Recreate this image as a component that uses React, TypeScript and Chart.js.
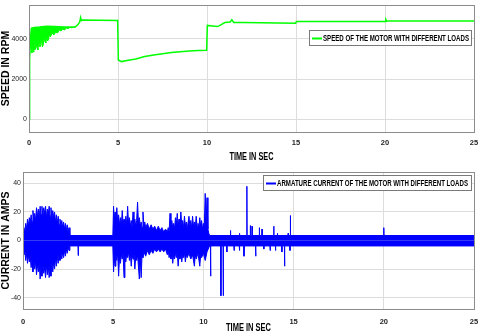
import React, { useEffect, useRef } from 'react';
import { Chart, registerables } from 'chart.js';

Chart.register(...registerables);

// ---------- DATA ----------
const timeTicks = [0, 5, 10, 15, 20, 25];
const speedTicks = [0, 2000, 4000];
const currentTicks = [-40, -20, 0, 20, 40];

const timeTitle = 'TIME IN SEC';
const speedTitle = 'SPEED IN RPM';
const currentTitle = 'CURRENT IN AMPS';
const speedLabel = 'SPEED OF THE MOTOR WITH DIFFERENT LOADS';
const currentLabel = 'ARMATURE CURRENT OF THE MOTOR WITH DIFFERENT LOADS';

// speed of the motor (upper trace), seconds / rpm
const speedTime = [0, 0.02, 0.05, 0.1, 0.15, 0.3, 0.6, 1.0, 1.4, 2.0, 2.6, 2.75, 2.85, 2.9, 2.95, 3.0, 4.98,
  5.02, 5.2, 5.5, 6.0, 6.5, 7.0, 7.5, 8.0, 8.5, 9.0, 9.5, 9.98, 10.02, 10.3, 10.6, 10.8, 11.0, 11.3, 11.4,
  11.5, 12.0, 13.0, 14.0, 14.98, 15.02, 20.0, 20.05, 20.1, 25];
const speedRpm = [0, 1500, 3000, 4200, 4550, 4580, 4600, 4640, 4620, 4600, 4600, 4720, 4850, 5080, 4920, 4950, 4930,
  2950, 2870, 2920, 3000, 3120, 3200, 3260, 3320, 3360, 3400, 3430, 3440, 4680, 4650, 4620, 4720, 4820, 4850, 4960,
  4830, 4820, 4810, 4800, 4790, 4870, 4880, 4980, 4900, 4900];

// lower edge of the speed ripple during start-up
const rippleTime = [0.12, 0.16, 0.2, 0.24, 0.28, 0.32, 0.36, 0.4, 0.45, 0.5, 0.55, 0.6, 0.65, 0.7, 0.75, 0.8, 0.85,
  0.9, 0.95, 1.0, 1.05, 1.1, 1.15, 1.2, 1.3, 1.4, 1.5, 1.6, 1.7, 1.8, 1.9, 2.0, 2.1, 2.2, 2.3, 2.4, 2.5, 2.6];
const rippleRpm = [4550, 3300, 3700, 3350, 3900, 3450, 3500, 3800, 3550, 3450, 3900, 3600, 3650, 4000, 3600, 3700, 4100,
  3850, 3800, 4150, 3900, 4000, 4250, 4100, 4300, 4200, 4350, 4300, 4450, 4400, 4500, 4450, 4550, 4520, 4580, 4560, 4590, 4600];

// armature current: steady ripple band
const bandHigh = 3.5;
const bandLow = -3.8;

// armature current: upper envelope of the bursts (A)
const upperTime = [0, 0.05, 0.1, 0.15, 0.2, 0.25, 0.3, 0.35, 0.4, 0.45, 0.5, 0.55, 0.6, 0.65, 0.7, 0.75, 0.8, 0.85, 0.9, 0.95,
  1.0, 1.05, 1.1, 1.15, 1.2, 1.25, 1.3, 1.35, 1.4, 1.45, 1.5, 1.55, 1.6, 1.65, 1.7, 1.75, 1.8, 1.85, 1.9, 1.95,
  2.0, 2.05, 2.1, 2.15, 2.2, 2.25, 2.3, 2.35, 2.4, 2.45, 2.5, 2.55, 2.6, 4.98,
  5.02, 5.06, 5.1, 5.15, 5.2, 5.25, 5.3, 5.35, 5.4, 5.45, 5.5, 5.55, 5.6, 5.65, 5.7, 5.75, 5.8, 5.85, 5.9, 5.95,
  6.0, 6.05, 6.1, 6.15, 6.2, 6.25, 6.3, 6.35, 6.4, 6.45, 6.5, 6.55, 6.6, 6.65, 6.7, 6.75, 6.8, 6.9, 7.0, 7.1, 7.2,
  7.3, 7.4, 7.5, 7.6, 7.7, 7.8, 7.9, 8.0, 8.05, 8.1, 8.15, 8.2, 8.25, 8.3, 8.35, 8.4, 8.45, 8.5, 8.55, 8.6, 8.65,
  8.7, 8.75, 8.8, 8.85, 8.9, 8.95, 9.0, 9.05, 9.1, 9.2, 9.25, 9.3, 9.35, 9.4, 9.45, 9.5, 9.55, 9.6, 9.65, 9.7,
  9.75, 9.8, 9.85, 9.9, 9.95, 10.0, 10.05, 10.1, 10.15, 10.2, 10.25, 10.3, 10.35, 25];
const upperAmps = [6, 9, 5, 12, 8, 15, 10, 16, 12, 18, 13, 21, 15, 19, 14, 23, 17, 22, 16, 24,
  18, 24, 17, 23, 19, 24, 16, 22, 18, 24, 17, 23, 15, 21, 16, 20, 13, 18, 12, 17,
  11, 15, 10, 14, 9, 13, 8, 12, 7, 11, 6, 9, 3.5, 3.5,
  24, 14, 20, 12, 23, 13, 18, 11, 16, 10, 21, 12, 15, 10, 17, 11, 24, 12, 16, 10,
  14, 9, 20, 11, 15, 10, 14, 27, 12, 16, 10, 13, 9, 20, 11, 13, 9, 12, 8, 11, 8,
  10, 7, 10, 7, 9, 6, 8, 6, 9, 6, 19, 10, 14, 9, 12, 8, 16, 11, 19, 10, 15,
  9, 20, 11, 14, 9, 17, 10, 13, 8, 17, 10, 14, 9, 17, 10, 13, 9, 17, 10, 12,
  9, 16, 10, 14, 8, 12, 10, 33, 12, 30, 8, 5, 3.5, 3.5];

// armature current: lower envelope of the bursts (A)
const lowerTime = [0, 0.05, 0.1, 0.15, 0.2, 0.25, 0.3, 0.35, 0.4, 0.45, 0.5, 0.55, 0.6, 0.65, 0.7, 0.75, 0.8, 0.85, 0.9, 0.95,
  1.0, 1.05, 1.1, 1.15, 1.2, 1.25, 1.3, 1.35, 1.4, 1.45, 1.5, 1.55, 1.6, 1.65, 1.7, 1.75, 1.8, 1.85, 1.9, 1.95,
  2.0, 2.05, 2.1, 2.15, 2.2, 2.25, 2.3, 2.35, 2.4, 2.45, 2.5, 2.55, 2.6, 4.98,
  5.02, 5.06, 5.1, 5.15, 5.2, 5.25, 5.3, 5.35, 5.4, 5.45, 5.5, 5.55, 5.6, 5.65, 5.7, 5.75, 5.8, 5.85, 5.9, 5.95,
  6.0, 6.05, 6.1, 6.15, 6.2, 6.25, 6.3, 6.35, 6.45, 6.5, 6.55, 6.6, 6.65, 6.7, 6.8, 6.9, 7.0, 7.1, 7.2, 7.3,
  7.4, 7.5, 7.6, 7.7, 7.8, 7.9, 8.0, 8.05, 8.1, 8.15, 8.2, 8.25, 8.3, 8.35, 8.4, 8.45, 8.5, 8.55, 8.6, 8.65,
  8.7, 8.75, 8.8, 8.85, 8.9, 8.95, 9.0, 9.05, 9.1, 9.2, 9.3, 9.4, 9.5, 9.55, 9.6, 9.7, 9.8, 9.85, 9.9, 10.0,
  10.1, 10.2, 10.3, 10.35, 25];
const lowerAmps = [-6, -10, -6, -14, -9, -16, -10, -15, -11, -19, -13, -22, -14, -20, -15, -24, -17, -22, -16, -27,
  -18, -25, -17, -23, -19, -26, -17, -24, -18, -26, -19, -25, -16, -22, -15, -20, -13, -18, -11, -16,
  -10, -14, -9, -13, -8, -12, -7, -11, -6, -9, -5, -7, -3.8, -3.8,
  -22, -12, -18, -10, -14, -9, -25, -12, -16, -10, -13, -9, -26, -11, -15, -9, -12, -8, -14, -9,
  -18, -10, -13, -9, -20, -11, -14, -10, -27, -12, -26, -10, -12, -8, -11, -7, -10, -7, -9, -6,
  -8, -6, -8, -6, -8, -6, -10, -7, -12, -8, -13, -9, -16, -10, -13, -9, -12, -8, -18, -10,
  -13, -9, -15, -10, -12, -9, -15, -10, -12, -9, -13, -10, -18, -10, -13, -9, -18, -10, -12, -9,
  -14, -8, -5, -3.8, -3.8];

// isolated current spikes outside the bursts
const spikeUpTime = [11.5, 12.0, 12.41, 12.6, 12.7, 13.1, 13.25, 13.9, 14.1, 14.7, 14.82, 20.0];
const spikeUpAmps = [7, 5, 38, 10.5, 10, 9, 8, 10, 5, 5, 17.5, 9];
const spikeDownTime = [3.06, 10.4, 10.97, 11.1, 11.3, 11.7, 12.0, 12.25, 12.9, 13.35, 13.7, 14.0, 14.35, 14.5, 14.8];
const spikeDownAmps = [-10.5, -25, -38.7, -38.7, -8, -7, -7, -11, -11, -6, -7, -7, -8, -18, -7];

// ---------- HELPERS ----------
type Pt = { x: number; y: number };
const zip = (xs: number[], ys: number[]): Pt[] => xs.map((x, i) => ({ x, y: ys[i] }));

function withSpikes(base: Pt[], ts: number[], vs: number[], level: number): Pt[] {
  const pts = base.slice();
  ts.forEach((t, i) => {
    pts.push({ x: t - 0.012, y: level }, { x: t, y: vs[i] }, { x: t + 0.012, y: level });
  });
  return pts.sort((a, b) => a.x - b.x);
}

const FONT = "'Liberation Sans', Arial, sans-serif";

// draws text condensed horizontally so that it spans `width` pixels (narrow bold look)
function drawNarrow(ctx: CanvasRenderingContext2D, text: string, x: number, y: number, size: number, width: number, align: 'left' | 'center') {
  ctx.save();
  ctx.font = `bold ${size}px ${FONT}`;
  ctx.textBaseline = 'middle';
  ctx.textAlign = 'left';
  const w = ctx.measureText(text).width;
  const sx = width / w;
  const startX = align === 'center' ? x - width / 2 : x;
  ctx.translate(startX, y);
  ctx.scale(sx, 1);
  ctx.fillStyle = '#000000';
  ctx.fillText(text, 0, 0);
  ctx.restore();
}

const framePlugin = {
  id: 'frame',
  afterDatasetsDraw(chart: any) {
    const { ctx, chartArea: a } = chart;
    ctx.save();
    ctx.strokeStyle = '#8c8c8c';
    ctx.lineWidth = 1;
    ctx.strokeRect(Math.round(a.left) + 0.5, Math.round(a.top) + 0.5, Math.round(a.right - a.left), Math.round(a.bottom - a.top));
    ctx.restore();
  },
};

const narrowTextPlugin = {
  id: 'narrowText',
  afterDraw(chart: any, _args: any, opts: any) {
    if (!opts || !opts.legendText) return;
    const { ctx, chartArea: a, height } = chart;
    // x-axis title
    drawNarrow(ctx, opts.xTitle, (a.left + a.right) / 2, height - opts.xTitleFromBottom, opts.xTitleSize, opts.xTitleWidth, 'center');
    // boxed legend inside the axes
    const right = a.right - opts.marginRight;
    const left = right - opts.width;
    const top = a.top + opts.marginTop;
    const h = opts.height;
    ctx.save();
    ctx.fillStyle = '#ffffff';
    ctx.fillRect(left, top, opts.width, h);
    ctx.strokeStyle = '#7a7a7a';
    ctx.lineWidth = 1;
    ctx.strokeRect(Math.round(left) + 0.5, Math.round(top) + 0.5, Math.round(opts.width), Math.round(h));
    ctx.strokeStyle = opts.color;
    ctx.lineWidth = 2;
    ctx.beginPath();
    ctx.moveTo(left + 3, Math.round(top + h / 2) + 0.5);
    ctx.lineTo(left + 13, Math.round(top + h / 2) + 0.5);
    ctx.stroke();
    ctx.restore();
    drawNarrow(ctx, opts.legendText, left + opts.textOffset, top + h / 2 + 1, 9, opts.textWidth, 'left');
  },
};

function makeXScale(height: number, pad: number) {
  return {
    type: 'linear',
    min: 0,
    max: 25,
    afterBuildTicks: (s: any) => { s.ticks = timeTicks.map((v) => ({ value: v })); },
    afterFit: (s: any) => { s.height = height; s.paddingLeft = 0; s.paddingRight = 0; },
    grid: { color: '#dcdcdc', drawTicks: false, lineWidth: 1 },
    border: { display: false },
    ticks: {
      color: '#262626', padding: pad, font: { family: FONT, size: 7.5, weight: 'bold' }, maxRotation: 0,
      callback: (v: any) => String(v),
    },
    title: { display: false, text: timeTitle },
  };
}

function makeYScale(min: number, max: number, ticks: number[], width: number, title: string) {
  return {
    type: 'linear',
    min,
    max,
    afterBuildTicks: (s: any) => { s.ticks = ticks.map((v) => ({ value: v })); },
    afterFit: (s: any) => { s.width = width; s.paddingTop = 0; s.paddingBottom = 0; },
    grid: { color: '#dcdcdc', drawTicks: false },
    border: { display: false },
    ticks: { color: '#262626', padding: 2, font: { family: FONT, size: 7 }, callback: (v: any) => String(v) },
    title: {
      display: true,
      text: title,
      color: '#000',
      font: { family: FONT, size: 10.5, weight: 'bold' },
      padding: { top: 0, bottom: 0 },
    },
  };
}

function ChartBox({ config }: { config: any }) {
  const ref = useRef<HTMLCanvasElement | null>(null);
  useEffect(() => {
    if (!ref.current) return;
    const chart = new Chart(ref.current, config);
    return () => chart.destroy();
  }, [config]);
  return <canvas ref={ref} width={480} height={167} style={{ display: 'block', width: 480, height: 167 }} />;
}

const speedConfig: any = {
  type: 'line',
  data: {
    datasets: [
      {
        label: speedLabel,
        data: zip(speedTime, speedRpm),
        borderColor: '#00ff00',
        backgroundColor: '#00ff00',
        borderWidth: 1.5,
        pointRadius: 0,
        tension: 0,
        fill: false,
      },
      {
        label: 'ripple',
        data: zip(rippleTime, rippleRpm),
        borderColor: '#00ff00',
        backgroundColor: '#00ff00',
        borderWidth: 1,
        pointRadius: 0,
        tension: 0,
        fill: '-1',
      },
    ],
  },
  options: {
    animation: false,
    responsive: false,
    devicePixelRatio: 1,
    layout: { autoPadding: false, padding: { top: 5, right: 6, left: 0, bottom: 0 } },
    plugins: {
      legend: { display: false },
      tooltip: { enabled: false },
      narrowText: {
        xTitle: timeTitle, xTitleFromBottom: 9.5, xTitleSize: 10.5, xTitleWidth: 44,
        legendText: speedLabel, color: '#00ff00', width: 162, height: 15, marginRight: 3, marginTop: 25,
        textOffset: 14, textWidth: 146,
      },
    },
    scales: {
      x: makeXScale(35, 6),
      y: makeYScale(-650, 5700, speedTicks, 29, speedTitle),
    },
  },
  plugins: [framePlugin, narrowTextPlugin],
};

const currentConfig: any = {
  type: 'line',
  data: {
    datasets: [
      {
        label: currentLabel,
        data: withSpikes(zip(upperTime, upperAmps), spikeUpTime, spikeUpAmps, bandHigh),
        borderColor: '#0000ff',
        backgroundColor: '#0000ff',
        borderWidth: 1,
        pointRadius: 0,
        tension: 0,
        fill: 'origin',
      },
      {
        label: 'lower',
        data: withSpikes(zip(lowerTime, lowerAmps), spikeDownTime, spikeDownAmps, bandLow),
        borderColor: '#0000ff',
        backgroundColor: '#0000ff',
        borderWidth: 1,
        pointRadius: 0,
        tension: 0,
        fill: 'origin',
      },
    ],
  },
  options: {
    animation: false,
    responsive: false,
    devicePixelRatio: 1,
    layout: { autoPadding: false, padding: { top: 5, right: 6, left: 0, bottom: 0 } },
    plugins: {
      legend: { display: false },
      tooltip: { enabled: false },
      narrowText: {
        xTitle: timeTitle, xTitleFromBottom: 6, xTitleSize: 10.5, xTitleWidth: 45,
        legendText: currentLabel, color: '#0000ff', width: 208, height: 15, marginRight: 3, marginTop: 3,
        textOffset: 14, textWidth: 191,
      },
    },
    scales: {
      x: makeXScale(25, 8),
      y: makeYScale(-48, 48, currentTicks, 23, currentTitle),
    },
  },
  plugins: [framePlugin, narrowTextPlugin],
};

export default function App() {
  return (
    <div style={{ position: 'fixed', left: 0, top: 0, width: 480, height: 334, background: '#fff', overflow: 'hidden' }}>
      <ChartBox config={speedConfig} />
      <ChartBox config={currentConfig} />
    </div>
  );
}
